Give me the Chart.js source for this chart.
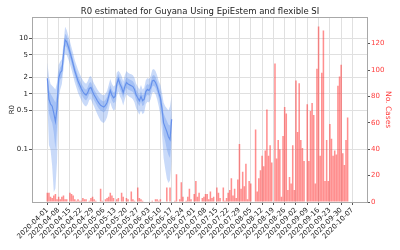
<!DOCTYPE html>
<html>
<head>
<meta charset="utf-8">
<script src="https://cdn.jsdelivr.net/npm/chart.js"></script>
<style>
  html, body { margin: 0; padding: 0; background: #fff; }
</style>
</head>
<body>
<canvas id="chart" width="400" height="250"></canvas>
<script>
// Weekly tick labels (day 0 = 2020-04-01, one tick every 7 days)
const weekLabels = [
    '2020-04-01', '2020-04-08', '2020-04-15', '2020-04-22', '2020-04-29',
    '2020-05-06', '2020-05-13', '2020-05-20', '2020-05-27', '2020-06-03',
    '2020-06-10', '2020-06-17', '2020-06-24', '2020-07-01', '2020-07-08',
    '2020-07-15', '2020-07-22', '2020-07-29', '2020-08-05', '2020-08-12',
    '2020-08-19', '2020-08-26', '2020-09-02', '2020-09-09', '2020-09-16',
    '2020-09-23', '2020-09-30', '2020-10-07'
];
const r0Ticks = [0.1, 0.5, 1, 2, 5, 10];
const caseTicks = [0, 20, 40, 60, 80, 100, 120];

// Daily new cases from 2020-04-01
const cases = [
    7, 7, 4, 3, 5, 6, 2, 4, 2, 4,
    5, 2, 2, 0, 7, 6, 5, 2, 1, 2,
    1, 1, 3, 2, 2, 0, 1, 3, 4, 2,
    1, 0, 0, 10, 1, 0, 2, 3, 4, 7,
    5, 3, 0, 2, 3, 0, 7, 4, 0, 3,
    2, 0, 8, 2, 1, 0, 11, 3, 2, 1,
    0, 0, 0, 0, 0, 1, 0, 2, 2, 1,
    2, 0, 0, 0, 11, 0, 11, 0, 0, 1,
    21, 0, 2, 15, 4, 0, 1, 4, 10, 2,
    0, 6, 16, 4, 7, 0, 3, 4, 6, 6,
    2, 8, 3, 4, 0, 11, 7, 3, 0, 11,
    1, 3, 7, 9, 18, 5, 10, 3, 17, 44,
    10, 23, 12, 29, 2, 16, 14, 0, 0, 55,
    8, 18, 24, 35, 27, 39, 70, 35, 43, 30,
    0, 105, 33, 47, 40, 4, 50, 72, 67, 9,
    19, 14, 43, 9, 92, 53, 90, 47, 41, 31,
    0, 74, 31, 69, 75, 66, 14, 101, 133, 35,
    98, 130, 16, 47, 16, 59, 48, 35, 39, 36,
    88, 95, 104, 37, 28, 47, 64
];

// R0 estimate (median) and credible bands, daily from 2020-04-01
const r0Median = [
    1.9, 0.8, 0.65, 0.6, 0.45, 0.32, 0.55, 1.9, 2.4, 2.6,
    5.0, 9.3, 8.6, 7.0, 5.6, 4.4, 3.4, 2.6, 2.1, 1.7,
    1.45, 1.25, 1.1, 1.0, 0.95, 1.05, 1.25, 1.3, 1.1, 0.95,
    0.85, 0.75, 0.68, 0.62, 0.6, 0.58, 0.62, 0.7, 0.9, 1.15,
    0.95, 0.85, 0.9, 1.5, 1.85, 1.5, 1.3, 1.05, 1.35, 1.6,
    1.5, 1.45, 1.4, 1.35, 1.2, 0.95, 0.85, 0.75, 0.9, 0.75,
    0.8, 1.1, 1.2, 1.15, 1.3, 1.7, 1.75, 1.6, 1.35, 1.05,
    0.85, 0.55, 0.3, 0.25, 0.21, 0.17, 0.15, 0.35
];
const r0Hi50 = [
    2.6, 1.2, 1.0, 0.9, 0.8, 0.7, 1.0, 2.5, 3.0, 3.3,
    6.3, 12, 11, 8.8, 7.0, 5.4, 4.2, 3.2, 2.6, 2.1,
    1.8, 1.55, 1.38, 1.25, 1.19, 1.31, 1.56, 1.63, 1.38, 1.19,
    1.06, 0.94, 0.85, 0.78, 0.75, 0.73, 0.78, 0.88, 1.13, 1.44,
    1.19, 1.06, 1.13, 1.88, 2.3, 1.88, 1.63, 1.31, 1.69, 2.0,
    1.88, 1.81, 1.75, 1.69, 1.5, 1.19, 1.06, 0.94, 1.13, 0.94,
    1.0, 1.38, 1.5, 1.44, 1.63, 2.1, 2.2, 2.0, 1.69, 1.31,
    1.1, 0.75, 0.45, 0.38, 0.33, 0.28, 0.27, 0.6
];
const r0Lo50 = [
    1.2, 0.45, 0.35, 0.3, 0.2, 0.1, 0.25, 1.3, 1.8, 2.0,
    3.8, 7.2, 6.8, 5.6, 4.5, 3.5, 2.7, 2.1, 1.7, 1.35,
    1.16, 1.0, 0.88, 0.8, 0.76, 0.84, 1.0, 1.04, 0.88, 0.76,
    0.68, 0.6, 0.54, 0.5, 0.48, 0.46, 0.5, 0.56, 0.72, 0.92,
    0.76, 0.68, 0.72, 1.2, 1.48, 1.2, 1.04, 0.84, 1.08, 1.28,
    1.2, 1.16, 1.12, 1.08, 0.96, 0.76, 0.68, 0.6, 0.72, 0.6,
    0.64, 0.88, 0.96, 0.92, 1.04, 1.36, 1.4, 1.28, 1.08, 0.84,
    0.62, 0.38, 0.18, 0.14, 0.1, 0.08, 0.07, 0.15
];
const r0Hi95 = [
    3.7, 2.0, 1.5, 1.4, 1.3, 1.2, 1.6, 3.3, 3.8, 4.2,
    8.0, 16, 14, 11, 8.8, 6.8, 5.3, 4.0, 3.3, 2.7,
    2.3, 2.0, 1.76, 1.6, 1.52, 1.68, 2.0, 2.1, 1.76, 1.52,
    1.36, 1.2, 1.09, 1.0, 0.96, 0.93, 1.0, 1.12, 1.44, 1.84,
    1.52, 1.36, 1.44, 2.4, 2.6, 2.4, 2.1, 1.68, 2.16, 2.56,
    2.4, 2.3, 2.24, 2.16, 1.92, 1.52, 1.36, 1.2, 1.44, 1.2,
    1.28, 1.76, 1.92, 1.84, 2.1, 2.7, 2.8, 2.56, 2.16, 1.68,
    1.45, 1.05, 0.7, 0.6, 0.55, 0.5, 0.6, 0.95
];
const r0Lo95 = [
    0.7, 0.12, 0.1, 0.05, 0.017, 0.02, 0.06, 0.8, 1.2, 1.5,
    2.8, 5.2, 5.0, 4.2, 3.4, 2.7, 2.1, 1.6, 1.3, 1.05,
    0.9, 0.78, 0.68, 0.62, 0.59, 0.65, 0.78, 0.8, 0.68, 0.59,
    0.5, 0.43, 0.37, 0.33, 0.31, 0.3, 0.33, 0.38, 0.52, 0.7,
    0.57, 0.5, 0.53, 0.9, 1.1, 0.9, 0.78, 0.62, 0.8, 0.98,
    0.92, 0.88, 0.85, 0.8, 0.7, 0.55, 0.48, 0.42, 0.5, 0.43,
    0.46, 0.65, 0.72, 0.7, 0.8, 1.05, 1.08, 0.98, 0.8, 0.6,
    0.42, 0.2, 0.07, 0.045, 0.03, 0.025, 0.028, 0.06
];

const toPoints = arr => arr.map((v, i) => ({ x: i, y: v }));

const FONT = 'DejaVu Sans';
const RED = '#ff3b3b';
const BAND = 'rgba(100, 149, 237, 0.35)';
const GRID = '#e0e0e0';

// draws the box round the plot area (matplotlib style spines)
const framePlugin = {
    id: 'frame',
    afterDatasetsDraw(chart) {
        const { ctx, chartArea: a } = chart;
        ctx.save();
        ctx.strokeStyle = '#a8a8a8';
        ctx.lineWidth = 1;
        ctx.strokeRect(Math.round(a.left) + 0.5, Math.round(a.top) + 0.5,
            Math.round(a.right - a.left), Math.round(a.bottom - a.top));
        ctx.restore();
    }
};

const lineBase = { type: 'line', yAxisID: 'y', pointRadius: 0, borderWidth: 0, tension: 0 };

new Chart(document.getElementById('chart'), {
    type: 'bar',
    data: {
        datasets: [
            {
                label: 'cases',
                data: toPoints(cases),
                yAxisID: 'y1',
                backgroundColor: 'rgba(255, 55, 55, 0.56)',
                borderWidth: 0,
                barPercentage: 0.95,
                categoryPercentage: 1
            },
            { ...lineBase, label: 'lo95', data: toPoints(r0Lo95), fill: false },
            { ...lineBase, label: 'hi95', data: toPoints(r0Hi95), fill: 1, backgroundColor: BAND },
            { ...lineBase, label: 'lo50', data: toPoints(r0Lo50), fill: false },
            { ...lineBase, label: 'hi50', data: toPoints(r0Hi50), fill: 3, backgroundColor: BAND },
            { ...lineBase, label: 'R0', data: toPoints(r0Median), fill: false,
              borderColor: '#6a8ee8', borderWidth: 1.2 }
        ]
    },
    options: {
        responsive: false,
        animation: false,
        layout: { padding: 0 },
        plugins: {
            legend: { display: false },
            tooltip: { enabled: false },
            title: {
                display: true,
                text: 'R0 estimated for Guyana Using EpiEstem and flexible SI',
                color: '#222',
                font: { family: FONT, size: 8.5, weight: 'normal' },
                padding: { top: 7, bottom: 0 }
            }
        },
        scales: {
            x: {
                type: 'linear',
                offset: false,
                min: -9.5,
                max: 198,
                afterBuildTicks: s => { s.ticks = weekLabels.map((l, i) => ({ value: i * 7 })); },
                afterFit: s => { s.height = 48; },
                grid: { color: GRID, tickLength: 3, tickColor: '#555', offset: false },
                border: { color: '#a8a8a8' },
                ticks: {
                    autoSkip: false,
                    minRotation: 45,
                    maxRotation: 45,
                    padding: 1,
                    color: '#222',
                    font: { family: FONT, size: 7 },
                    callback: v => weekLabels[Math.round(v / 7)]
                }
            },
            y: {
                type: 'logarithmic',
                position: 'left',
                min: 0.0114,
                max: 23.8,
                afterBuildTicks: s => { s.ticks = r0Ticks.map(v => ({ value: v })); },
                afterFit: s => { s.width = 32; },
                grid: { color: GRID, tickLength: 3, tickColor: '#555' },
                border: { color: '#a8a8a8' },
                ticks: {
                    padding: 1,
                    color: '#222',
                    font: { family: FONT, size: 7 },
                    callback: v => String(v)
                },
                title: {
                    display: true,
                    text: 'R0',
                    color: '#222',
                    font: { family: FONT, size: 7 },
                    padding: { top: 8, bottom: 0 }
                }
            },
            y1: {
                type: 'linear',
                position: 'right',
                min: 0,
                max: 140,
                afterBuildTicks: s => { s.ticks = caseTicks.map(v => ({ value: v })); },
                afterFit: s => { s.width = 33; },
                grid: { drawOnChartArea: false, tickLength: 3, tickColor: '#555' },
                border: { color: '#a8a8a8' },
                ticks: {
                    padding: 1,
                    color: RED,
                    font: { family: FONT, size: 7 }
                },
                title: {
                    display: true,
                    text: 'No. Cases',
                    color: RED,
                    font: { family: FONT, size: 7.5 },
                    padding: { top: 8, bottom: 0 }
                }
            }
        }
    },
    plugins: [framePlugin]
});
</script>
</body>
</html>
